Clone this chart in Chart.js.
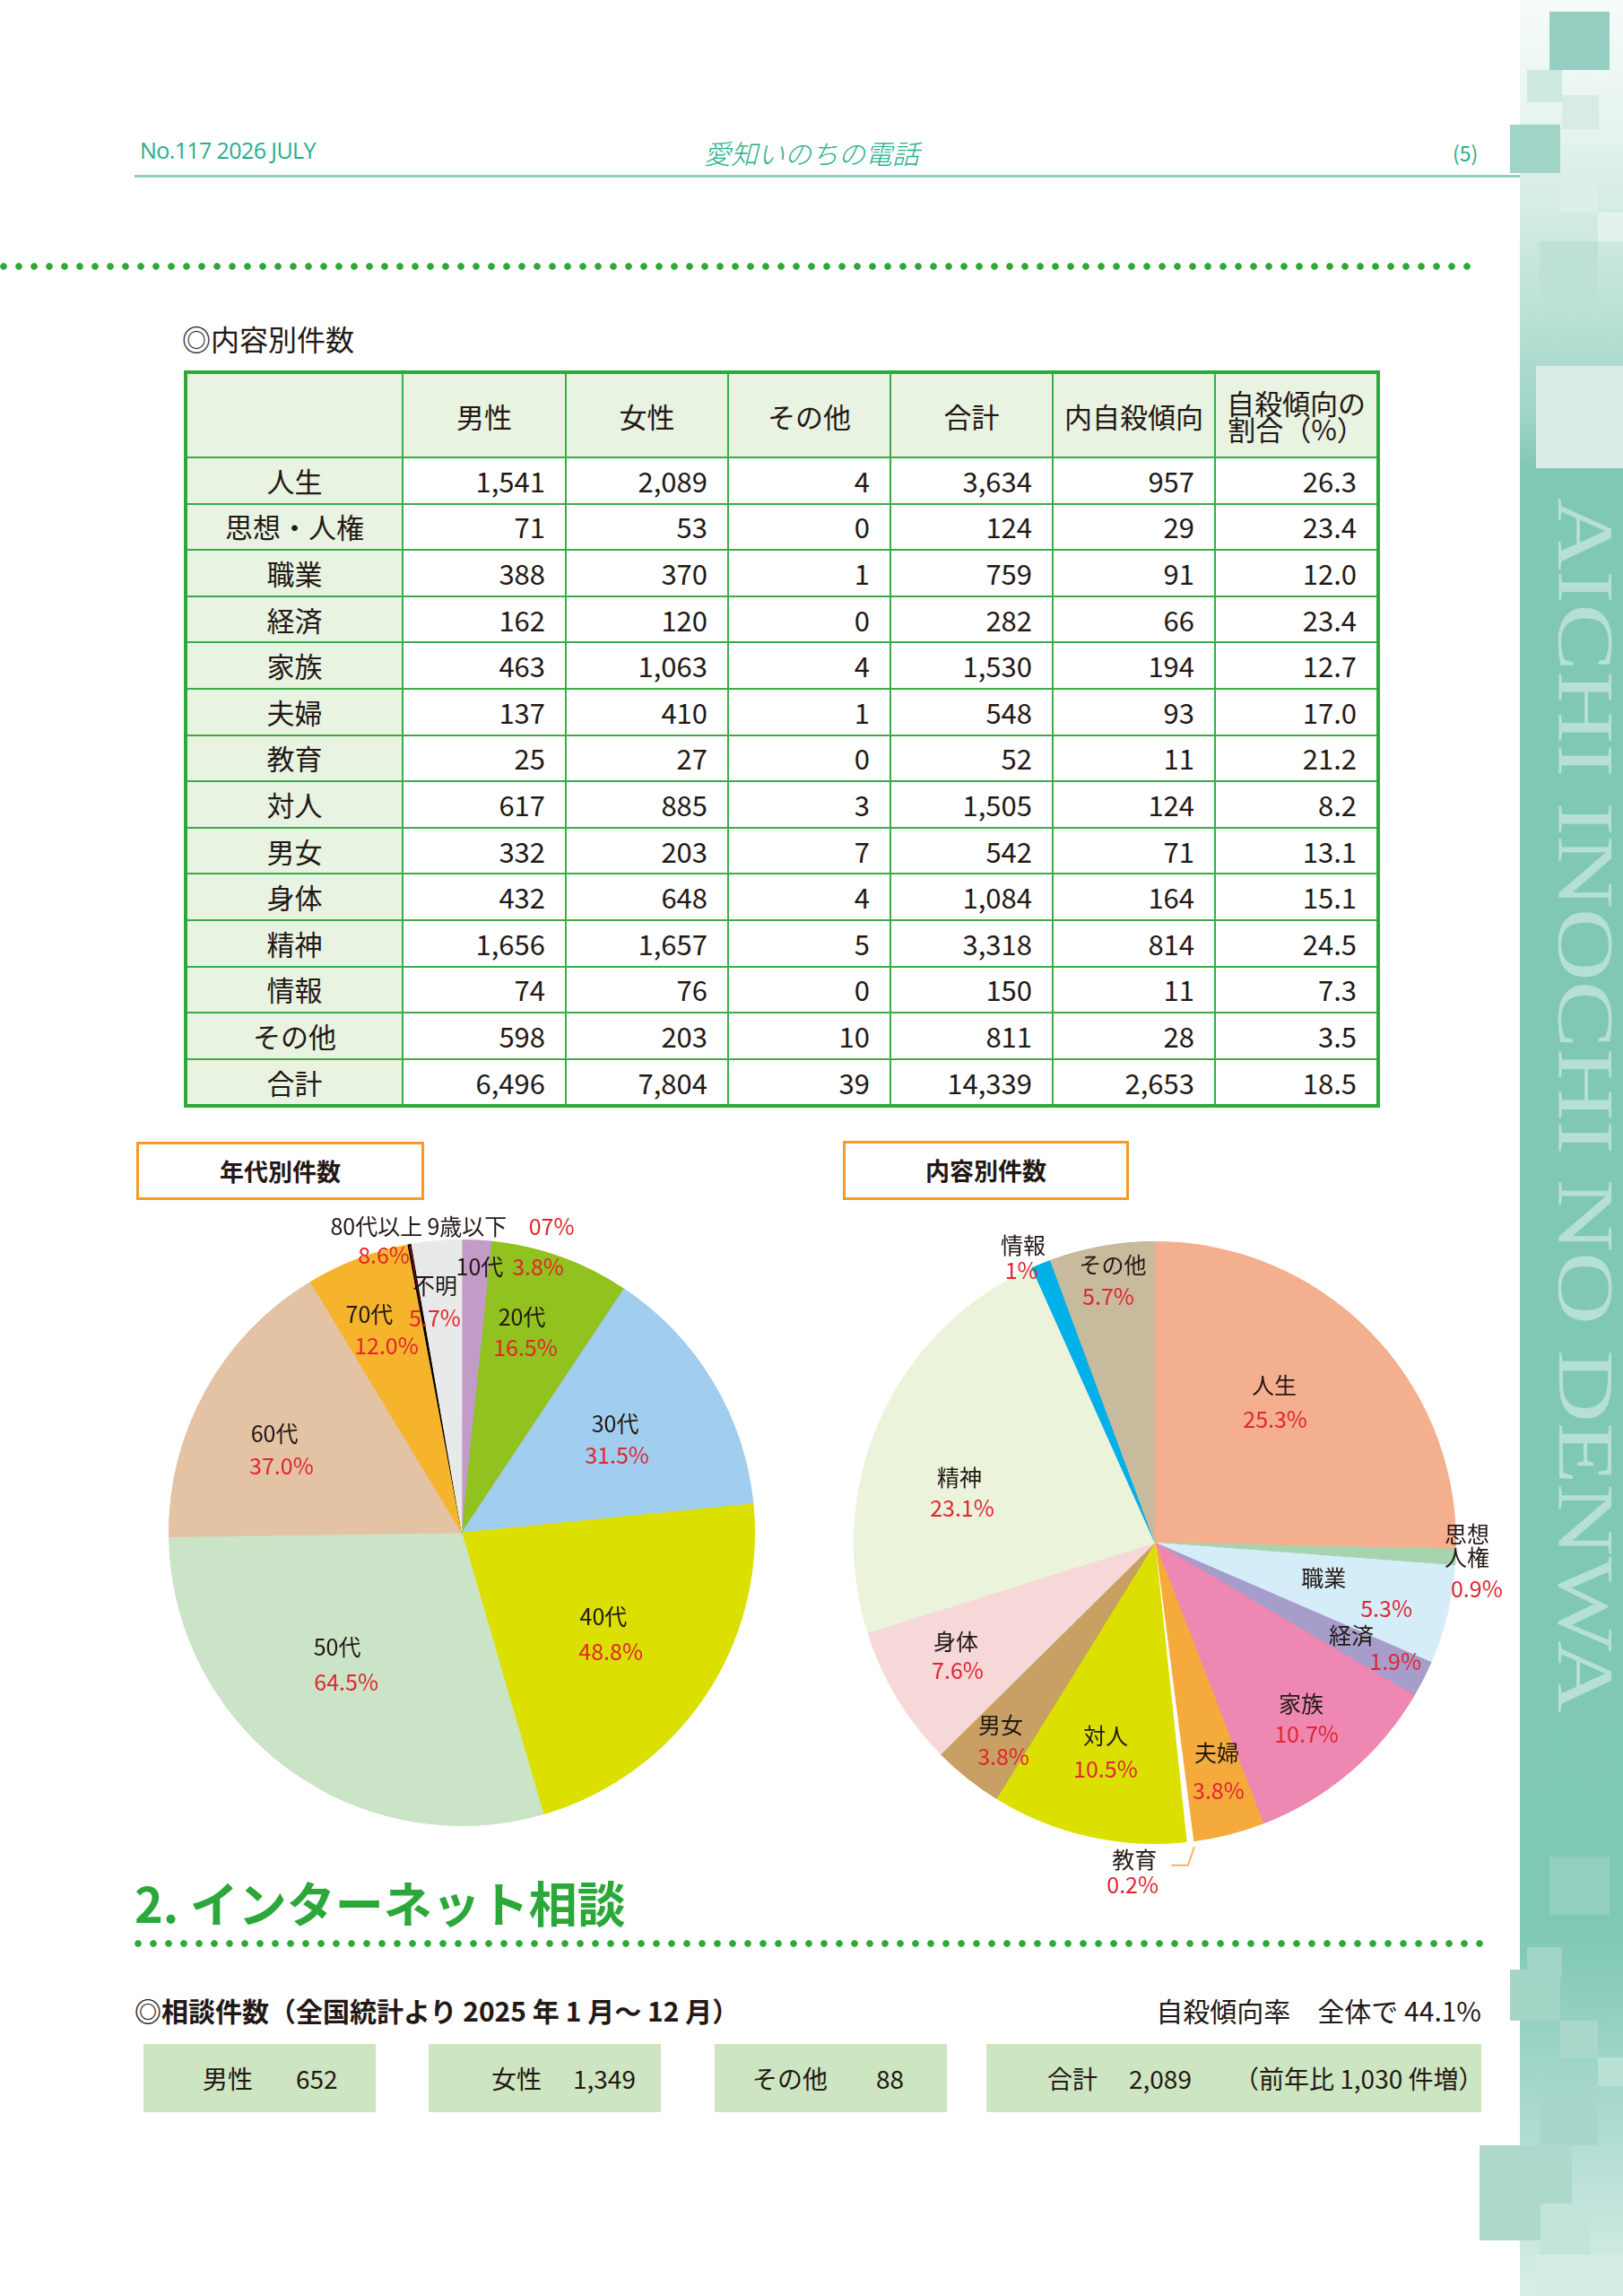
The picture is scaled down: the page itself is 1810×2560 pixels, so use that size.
<!DOCTYPE html>
<html><head><meta charset="utf-8">
<script src="https://cdn.jsdelivr.net/npm/chart.js@4.4.1/dist/chart.umd.min.js"></script>
<style>
html,body{margin:0;padding:0;background:#fff;}
body{width:1810px;height:2560px;position:relative;overflow:hidden;font-family:"Noto Sans CJK JP","Noto Sans",sans-serif;color:#231815;}
.abs{position:absolute;}
.dots{position:absolute;height:10px;background-image:radial-gradient(circle at 4px 5px,#2fa83a 3.4px,rgba(47,168,58,0) 4.2px);background-size:17px 10px;background-repeat:repeat-x;}
#tbl{position:absolute;left:205px;top:413px;}
table{border-collapse:collapse;table-layout:fixed;width:1330px;border:4px solid #2fa83a;}
td{border:2px solid #3aac45;font-size:31px;line-height:34px;padding:0 22px 0 0;text-align:right;height:49.6px;white-space:nowrap;overflow:visible;}
td.lab{text-align:center;padding:0;background:#e9f3e2;}
tr.head td{background:#e9f3e2;text-align:center;padding:0;height:92px;line-height:29px;}
.box{position:absolute;background:#cde6c1;top:2279px;height:76px;}
.box span{position:absolute;top:0;line-height:76px;font-size:28px;white-space:nowrap;}
.ttl{position:absolute;border:3px solid #f39a2b;box-sizing:border-box;font-weight:700;font-size:27px;text-align:center;}
.band{position:absolute;}
</style></head><body>

<!-- right decorative band -->
<div class="band" style="left:1695px;top:0;width:115px;height:2560px;background:linear-gradient(to bottom,#f7fbfa 0px,#e4f3ee 150px,#bfe3d8 330px,#9fd5c7 460px,#80c8b5 525px,#7fc8b5 2150px,#95d1c2 2260px,#b9e0d6 2420px,#d7eee7 2560px);"></div>
<div class="band" style="left:1728px;top:13px;width:67px;height:65px;background:#94cfc1"></div>
<div class="band" style="left:1703px;top:78px;width:39px;height:36px;background:#cde8df"></div>
<div class="band" style="left:1742px;top:106px;width:41px;height:38px;background:#d6ece4"></div>
<div class="band" style="left:1684px;top:139px;width:56px;height:54px;background:#a0d4c6"></div>
<div class="band" style="left:1740px;top:193px;width:42px;height:44px;background:#dcefe8"></div>
<div class="band" style="left:1782px;top:237px;width:28px;height:32px;background:#e3f2ed"></div>
<div class="band" style="left:1717px;top:269px;width:65px;height:66px;background:#bde1d6"></div>
<div class="band" style="left:1713px;top:408px;width:97px;height:114px;background:#d9eee8"></div>
<div class="band" style="left:1728px;top:2070px;width:67px;height:65px;background:#93cfc0"></div>
<div class="band" style="left:1703px;top:2171px;width:39px;height:33px;background:#9fd4c6"></div>
<div class="band" style="left:1684px;top:2196px;width:56px;height:57px;background:#a4d6c8"></div>
<div class="band" style="left:1740px;top:2253px;width:42px;height:41px;background:#a9d8cb"></div>
<div class="band" style="left:1782px;top:2294px;width:28px;height:32px;background:#b9e0d5"></div>
<div class="band" style="left:1717px;top:2326px;width:65px;height:66px;background:#a7d7ca"></div>
<div class="band" style="left:1650px;top:2392px;width:103px;height:106px;background:#add9cc"></div>
<div class="band" style="left:1718px;top:2457px;width:55px;height:57px;background:#c3e4da"></div>
<div class="band" style="left:1713px;top:2514px;width:97px;height:46px;background:#d3ece5"></div>
<svg class="abs" style="left:0;top:0" width="1810" height="2560">
  <text transform="translate(1739,555) rotate(90)" font-family="Liberation Serif" font-size="88" fill="#b6e0d4" textLength="1355" lengthAdjust="spacingAndGlyphs">AICHI INOCHI NO DENWA</text>
</svg>

<!-- header -->
<div class="abs" style="left:156px;top:150px;font-family:'Open Sans';font-size:25px;color:#27ad8c;letter-spacing:-0.6px;">No.117 2026 JULY</div>
<div class="abs" style="left:785px;top:148px;font-size:30px;color:#1fae8a;font-style:italic;font-weight:300;">愛知いのちの電話</div>
<div class="abs" style="left:1620px;top:153px;font-size:23px;color:#27ad8c;">(5)</div>
<div class="abs" style="left:150px;top:195px;width:1545px;height:3px;background:#8fd0bf;"></div>

<div class="dots" style="left:0;top:292px;width:1648px;"></div>

<div class="abs" style="left:203px;top:354px;font-size:32px;">◎内容別件数</div>
<div id="tbl"></div>

<div class="ttl" style="left:152px;top:1273px;width:321px;height:65px;line-height:59px;">年代別件数</div>
<div class="ttl" style="left:940px;top:1272px;width:319px;height:66px;line-height:60px;">内容別件数</div>

<canvas id="pieAge" class="abs" width="800" height="800" style="left:115px;top:1309px;"></canvas>
<canvas id="pieContent" class="abs" width="840" height="840" style="left:868px;top:1300px;"></canvas>

<div class="abs" style="left:150px;top:2089px;font-size:54px;font-weight:700;color:#2ca73a;line-height:64px;white-space:nowrap;">2. インターネット相談</div>
<div class="dots" style="left:150px;top:2162px;width:1505px;"></div>
<div class="abs" style="left:150px;top:2219px;font-size:30px;font-weight:700;white-space:nowrap;">◎相談件数（全国統計より 2025 年 1 月～ 12 月）</div>
<div class="abs" style="right:158px;top:2219px;font-size:30px;white-space:nowrap;">自殺傾向率　全体で 44.1%</div>
<div id="boxes"></div>

<script>
// ===== table data (内容別件数) =====
const categories = ['人生','思想・人権','職業','経済','家族','夫婦','教育','対人','男女','身体','精神','情報','その他'];
const male       = [1541, 71, 388, 162, 463, 137, 25, 617, 332, 432, 1656, 74, 598];
const female     = [2089, 53, 370, 120, 1063, 410, 27, 885, 203, 648, 1657, 76, 203];
const otherSex   = [4, 0, 1, 0, 4, 1, 0, 3, 7, 4, 5, 0, 10];
const totals     = [3634, 124, 759, 282, 1530, 548, 52, 1505, 542, 1084, 3318, 150, 811];
const suicidal   = [957, 29, 91, 66, 194, 93, 11, 124, 71, 164, 814, 11, 28];
const suicidalPct= [26.3, 23.4, 12.0, 23.4, 12.7, 17.0, 21.2, 8.2, 13.1, 15.1, 24.5, 7.3, 3.5];
const sumRow     = ['合計', 6496, 7804, 39, 14339, 2653, 18.5];
const headers    = ['', '男性', '女性', 'その他', '合計', '内自殺傾向', '自殺傾向の<br>割合（%）'];
const colWidths  = [242, 182, 181, 181, 181, 181, 182];

// ===== pie 1 (年代別件数) =====
const ageLabels  = ['9歳以下','10代','20代','30代','40代','50代','60代','70代','80代以上','不明'];
const ageShare   = [0.05, 1.6, 7.7, 14.1, 22.1, 29.3, 16.6, 5.7, 0.2, 2.75];
const agePctText = ['07%','3.8%','16.5%','31.5%','48.8%','64.5%','37.0%','12.0%','8.6%','5.7%'];
const ageColors  = ['#e8a6c6','#c39bc8','#91c21f','#a1cdee','#dbe000','#cbe4c7','#e4c2a4','#f6b42c','#d8141e','#e8eaea'];

// ===== pie 2 (内容別件数) uses totals =====
const contentNames   = ['人生','思想\n人権','職業','経済','家族','夫婦','教育','対人','男女','身体','精神','情報','その他'];
const contentPctText = ['25.3%','0.9%','5.3%','1.9%','10.7%','3.8%','0.2%','10.5%','3.8%','7.6%','23.1%','1%','5.7%'];
const contentColors  = ['#f4af8e','#a6d4ae','#d5edf9','#a69dcb','#ee87b1','#f5ab3c','#ffffff','#dbe000','#c8a064','#f7d8d9','#ebf3db','#00b0e8','#c8ba9c'];

// ===== internet consultation =====
const netLabels = ['男性','女性','その他','合計'];
const netValues = [652, 1349, 88, 2089];
const netNote   = '（前年比 1,030 件増）';

// label layout (relative to pie centre, in radius units)
const ageNamePos = [[0.018,-1.043],[0.061,-0.908],[0.205,-0.737],[0.523,-0.373],[0.483,0.287],[-0.425,0.391],[-0.639,-0.339],[-0.315,-0.746],[-0.291,-1.043],[-0.092,-0.844]];
const agePctPos  = [[0.306,-1.043],[0.260,-0.908],[0.217,-0.630],[0.529,-0.263],[0.508,0.404],[-0.394,0.508],[-0.615,-0.229],[-0.257,-0.639],[-0.266,-0.945],[-0.092,-0.731]];
const conNamePos = [[0.396,-0.521],[1.036,-0.027],[0.560,0.119],[0.652,0.307],[0.485,0.533],[0.205,0.699],[-0.068,1.051],[-0.164,0.640],[-0.512,0.607],[-0.661,0.330],[-0.649,-0.217],[-0.4375,-0.988],[-0.140,-0.920]];
const conPctPos  = [[0.399,-0.408],[1.068,0.152],[0.768,0.220],[0.798,0.393],[0.503,0.634],[0.211,0.824],[-0.074,1.134],[-0.164,0.750],[-0.503,0.711],[-0.655,0.423],[-0.640,-0.116],[-0.443,-0.902],[-0.155,-0.818]];

const fmt = v => v.toLocaleString('en-US');

// build table
(function(){
  let h = '<table><colgroup>' + colWidths.map(w=>'<col style="width:'+w+'px">').join('') + '</colgroup>';
  h += '<tr class="head">' + headers.map(t=>'<td>'+t+'</td>').join('') + '</tr>';
  categories.forEach((c,i)=>{
    h += '<tr><td class="lab">'+c+'</td><td>'+fmt(male[i])+'</td><td>'+fmt(female[i])+'</td><td>'+fmt(otherSex[i])+'</td><td>'+fmt(totals[i])+'</td><td>'+fmt(suicidal[i])+'</td><td>'+suicidalPct[i].toFixed(1)+'</td></tr>';
  });
  h += '<tr><td class="lab">'+sumRow[0]+'</td>' + sumRow.slice(1,6).map(v=>'<td>'+fmt(v)+'</td>').join('') + '<td>'+sumRow[6].toFixed(1)+'</td></tr>';
  h += '</table>';
  document.getElementById('tbl').innerHTML = h;
})();

// boxes: [left, width, label x, value x]
(function(){
  const boxes = [[160,259,66,170],[478,259,70,161],[797,259,42,180],[1100,552,68,159]];
  let h='';
  netLabels.forEach((l,i)=>{
    const b = boxes[i];
    h += '<div class="box" style="left:'+b[0]+'px;width:'+b[1]+'px"><span style="left:'+b[2]+'px">'+l+'</span><span style="left:'+b[3]+'px">'+fmt(netValues[i])+'</span>' + (i===3?'<span style="left:276px">'+netNote+'</span>':'') + '</div>';
  });
  document.getElementById('boxes').innerHTML = h;
})();

const sliceLabels = {
  id:'sliceLabels',
  afterDatasetsDraw(chart, args, opts){
    const arc = chart.getDatasetMeta(0).data[0];
    if(!arc) return;
    const cx = arc.x, cy = arc.y, R = arc.outerRadius;
    const ctx = chart.ctx;
    ctx.save();
    ctx.font = opts.font;
    ctx.textAlign = 'center';
    ctx.textBaseline = 'middle';
    opts.names.forEach((t,i)=>{
      ctx.fillStyle = '#231815';
      const p = opts.namePos[i];
      const lines = t.split('\n');
      lines.forEach((ln,k)=>ctx.fillText(ln, cx+p[0]*R, cy+p[1]*R + k*opts.lineGap));
      ctx.fillStyle = '#e0262f';
      const q = opts.pctPos[i];
      ctx.fillText(opts.pcts[i], cx+q[0]*R, cy+q[1]*R);
    });
    if(opts.callout){
      ctx.strokeStyle = '#f5b26b'; ctx.lineWidth = 2;
      ctx.beginPath();
      opts.callout.forEach((p,k)=>{ const x=cx+p[0]*R, y=cy+p[1]*R; k?ctx.lineTo(x,y):ctx.moveTo(x,y); });
      ctx.stroke();
    }
    ctx.restore();
  }
};

function makePie(id, labels, data, colors, borderColors, borderWidths, pad, labelOpts){
  return new Chart(document.getElementById(id), {
    type:'pie',
    data:{labels:labels, datasets:[{data:data, backgroundColor:colors, borderColor:borderColors, borderWidth:borderWidths, borderAlign:'inner'}]},
    options:{responsive:false, animation:false, devicePixelRatio:1, layout:{padding:pad},
      plugins:{legend:{display:false}, tooltip:{enabled:false}, sliceLabels:labelOpts}},
    plugins:[sliceLabels]
  });
}

makePie('pieAge', ageLabels, ageShare, ageColors,
  ageColors.map((c,i)=> ageLabels[i]==='80代以上' ? '#000000' : c),
  ageColors.map((c,i)=> ageLabels[i]==='80代以上' ? 1.5 : 1), 73,
  {font:'25px "Noto Sans CJK JP"', names:ageLabels, pcts:agePctText, namePos:ageNamePos, pctPos:agePctPos, lineGap:0});

makePie('pieContent', categories, totals, contentColors, contentColors, contentColors.map(()=>1), 84,
  {font:'25px "Noto Sans CJK JP"', names:contentNames, pcts:contentPctText, namePos:conNamePos, pctPos:conPctPos, lineGap:26,
   callout:[[0.054,1.071],[0.110,1.071],[0.131,1.009]]});
</script>
</body></html>
